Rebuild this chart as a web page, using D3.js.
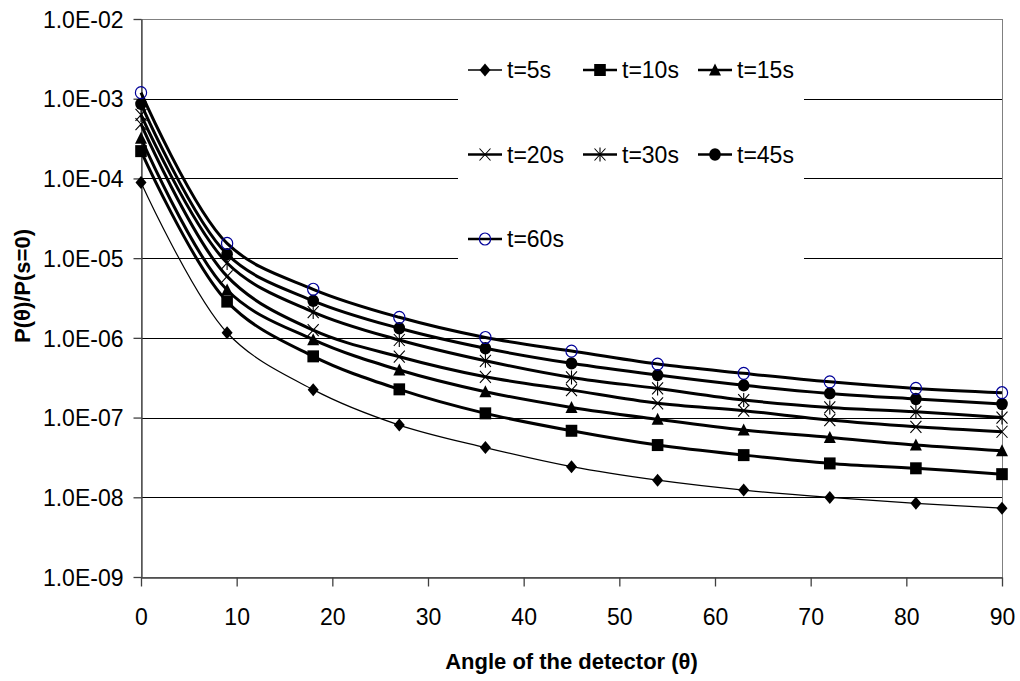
<!DOCTYPE html>
<html><head><meta charset="utf-8">
<script src="https://cdn.jsdelivr.net/npm/d3@7"></script>
<style>
body{margin:0;background:#fff}
svg{display:block}
text{font-family:Arial,"Liberation Sans",sans-serif;fill:#000}
</style>
</head><body>
<svg id="chart" width="1020" height="681"></svg>
<script>
// ---- data ----
const angles = [0, 9, 18, 27, 36, 45, 54, 63, 72, 81, 90];
const seriesNames = ["t=5s", "t=10s", "t=15s", "t=20s", "t=30s", "t=45s", "t=60s"];
const t5  = [8.9e-5, 1.16e-6, 2.24e-7, 8.05e-8, 4.2e-8, 2.42e-8, 1.64e-8, 1.23e-8, 9.97e-9, 8.4e-9, 7.3e-9];
const t10 = [2.2e-4, 2.85e-6, 5.86e-7, 2.26e-7, 1.13e-7, 6.83e-8, 4.52e-8, 3.38e-8, 2.66e-8, 2.31e-8, 1.95e-8];
const t15 = [3.2e-4, 3.98e-6, 9.5e-7, 3.95e-7, 2.11e-7, 1.34e-7, 9.5e-8, 6.97e-8, 5.64e-8, 4.52e-8, 3.83e-8];
const t20 = [4.8e-4, 5.9e-6, 1.25e-6, 5.8e-7, 3.25e-7, 2.21e-7, 1.51e-7, 1.22e-7, 9.3e-8, 7.67e-8, 6.64e-8];
const t30 = [6.25e-4, 8.7e-6, 2.11e-6, 9.4e-7, 5.16e-7, 3.19e-7, 2.32e-7, 1.66e-7, 1.34e-7, 1.18e-7, 1.0e-7];
const t45 = [8.6e-4, 1.12e-5, 2.92e-6, 1.32e-6, 7.4e-7, 4.79e-7, 3.41e-7, 2.54e-7, 2.01e-7, 1.71e-7, 1.48e-7];
const t60 = [1.19e-3, 1.53e-5, 4.07e-6, 1.81e-6, 1.01e-6, 6.83e-7, 4.69e-7, 3.59e-7, 2.81e-7, 2.32e-7, 2.05e-7];
const yTickValues = [1e-2, 1e-3, 1e-4, 1e-5, 1e-6, 1e-7, 1e-8, 1e-9];
const yTickLabels = ["1.0E-02", "1.0E-03", "1.0E-04", "1.0E-05", "1.0E-06", "1.0E-07", "1.0E-08", "1.0E-09"];
const xTickValues = [0, 10, 20, 30, 40, 50, 60, 70, 80, 90];
const xTitle = "Angle of the detector (\u03B8)";
const yTitle = "P(\u03B8)/P(s=0)";

// ---- styles ----
const seriesValues = [t5, t10, t15, t20, t30, t45, t60];
const markers = ["diamond", "square", "triangle", "times", "asterisk", "dot", "ring"];
const lineWidths = [1.2, 3, 3, 3, 3, 3, 3];

const svg = d3.select("#chart");
svg.append("rect").attr("width", 1020).attr("height", 681).attr("fill", "#fff");

const L = 141, R = 1002, T = 19, B = 577;
const x = d3.scaleLinear().domain([0, 90]).range([L, R]);
const y = d3.scaleLog().domain([1e-9, 1e-2]).range([B, T]);

// gridlines
svg.append("g").selectAll("line").data(yTickValues.slice(1, -1)).join("line")
  .attr("x1", L).attr("x2", R)
  .attr("y1", d => Math.round(y(d)) + 0.5).attr("y2", d => Math.round(y(d)) + 0.5)
  .attr("stroke", "#000").attr("stroke-width", 1);

// plot border
svg.append("rect").attr("x", L + 0.5).attr("y", T + 0.5).attr("width", R - L).attr("height", B - T)
  .attr("fill", "none").attr("stroke", "#808080").attr("stroke-width", 1);

// legend background (drawn over gridlines)
const legendBox = {x: 458, y: 42, w: 346, h: 224};
svg.append("rect").attr("x", legendBox.x).attr("y", legendBox.y)
  .attr("width", legendBox.w).attr("height", legendBox.h).attr("fill", "#fff");

// axes
const yAxis = d3.axisLeft(y).tickValues(yTickValues)
  .tickFormat((d, i) => yTickLabels[i]).tickSizeInner(8).tickSizeOuter(0).tickPadding(10);
const gy = svg.append("g").attr("transform", `translate(${L + 0.5},0)`).call(yAxis);
const xAxis = d3.axisBottom(x).tickValues(xTickValues).tickFormat(d3.format("d"))
  .tickSizeInner(9).tickSizeOuter(0).tickPadding(22);
const gx = svg.append("g").attr("transform", `translate(0,${B + 0.5})`).call(xAxis);
[gx, gy].forEach(g => {
  g.select(".domain").attr("stroke", "#404040").attr("stroke-width", 1.3);
  g.selectAll(".tick line").attr("stroke", "#404040").attr("stroke-width", 1.3);
  g.selectAll(".tick text").attr("font-size", 23).attr("font-family", "Arial, 'Liberation Sans', sans-serif").attr("fill", "#000");
});
gy.selectAll(".tick text").attr("dy", "0.36em");

// titles
svg.append("text").attr("x", (L + R) / 2).attr("y", 669).attr("text-anchor", "middle")
  .attr("font-size", 22).attr("font-weight", "bold").text(xTitle);
svg.append("text").attr("transform", `translate(30,${(T + B) / 2 - 12}) rotate(-90)`).attr("text-anchor", "middle")
  .attr("font-size", 22).attr("font-weight", "bold").text(yTitle);

// marker drawing
function drawMarker(g, type, cx, cy) {
  if (type === "diamond") {
    g.append("path").attr("d", `M${cx},${cy - 6.5}L${cx + 5.5},${cy}L${cx},${cy + 6.5}L${cx - 5.5},${cy}Z`).attr("fill", "#000");
  } else if (type === "square") {
    g.append("rect").attr("x", cx - 5.8).attr("y", cy - 6).attr("width", 11.6).attr("height", 12).attr("fill", "#000");
  } else if (type === "triangle") {
    g.append("path").attr("d", `M${cx},${cy - 6.5}L${cx + 6},${cy + 5.5}L${cx - 6},${cy + 5.5}Z`).attr("fill", "#000");
  } else if (type === "times") {
    g.append("path").attr("d", `M${cx - 5.5},${cy - 6}L${cx + 5.5},${cy + 6}M${cx + 5.5},${cy - 6}L${cx - 5.5},${cy + 6}`)
      .attr("stroke", "#000").attr("stroke-width", 1.1).attr("fill", "none");
  } else if (type === "asterisk") {
    g.append("path").attr("d", `M${cx - 5.5},${cy - 6}L${cx + 5.5},${cy + 6}M${cx + 5.5},${cy - 6}L${cx - 5.5},${cy + 6}M${cx},${cy - 7}L${cx},${cy + 7}`)
      .attr("stroke", "#000").attr("stroke-width", 1.1).attr("fill", "none");
  } else if (type === "dot") {
    g.append("ellipse").attr("cx", cx).attr("cy", cy).attr("rx", 5.8).attr("ry", 6.2).attr("fill", "#000");
  } else if (type === "ring") {
    g.append("ellipse").attr("cx", cx).attr("cy", cy).attr("rx", 5.6).attr("ry", 6).attr("fill", "none")
      .attr("stroke", "#000099").attr("stroke-width", 1.2);
  }
}

// series
const line = d3.line().x(d => x(d[0])).y(d => y(d[1])).curve(d3.curveCatmullRom.alpha(0.5));
seriesValues.forEach((vals, si) => {
  const pts = angles.map((a, i) => [a, vals[i]]);
  const g = svg.append("g");
  g.append("path").attr("d", line(pts)).attr("fill", "none").attr("stroke", "#000")
    .attr("stroke-width", lineWidths[si]).attr("stroke-linejoin", "round");
  pts.forEach(p => drawMarker(g, markers[si], x(p[0]), y(p[1])));
});

// legend
const legendCols = 3, colW = 115, rowH = 84.5, lx0 = 468, ly0 = 70;
seriesNames.forEach((name, i) => {
  const col = i % legendCols, row = Math.floor(i / legendCols);
  const gx0 = lx0 + col * colW, gy0 = ly0 + row * rowH;
  const g = svg.append("g");
  g.append("line").attr("x1", gx0).attr("x2", gx0 + 34).attr("y1", gy0).attr("y2", gy0)
    .attr("stroke", "#000").attr("stroke-width", lineWidths[i] === 3 ? 2.5 : 1.5);
  drawMarker(g, markers[i], gx0 + 17, gy0);
  g.append("text").attr("x", gx0 + 39).attr("y", gy0 + 8).attr("font-size", 23).text(name);
});
</script>
</body></html>
